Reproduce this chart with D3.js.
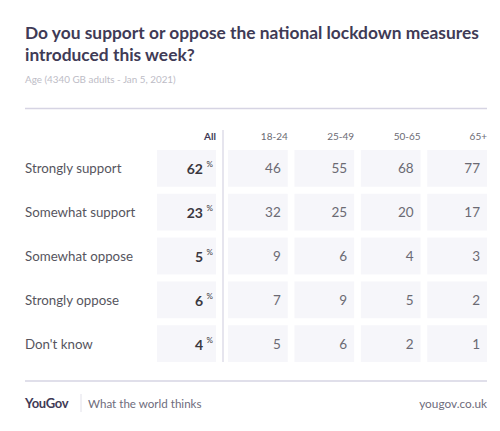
<!DOCTYPE html>
<html><head><meta charset="utf-8">
<script src="https://cdn.jsdelivr.net/npm/d3@7"></script>
<style>body{margin:0;background:#fff}svg{display:block}</style>
</head><body><svg id="c" width="500" height="431"></svg>
<script>
const responses = ["Strongly support","Somewhat support","Somewhat oppose","Strongly oppose","Don't know"];
const allValues = [62,23,5,6,4];
const ageGroups = ["18-24","25-49","50-65","65+"];
const ageValues = [
  [46,55,68,77],
  [32,25,20,17],
  [9,6,4,3],
  [7,9,5,2],
  [5,6,2,1]
];
const titleLines = ["Do you support or oppose the national lockdown measures","introduced this week?"];
const subtitle = "Age (4340 GB adults - Jan 5, 2021)";

const svg = d3.select("#c");
const font = "Lato, 'Open Sans', sans-serif";
const dark = "#3f3b56", grey = "#6b6a73", cellFill = "#f6f6fa";

function fit(sel, target){
  const node = sel.node();
  const fs = parseFloat(sel.attr("font-size"));
  const w = node.getComputedTextLength();
  sel.attr("font-size", (fs*target/w).toFixed(2));
  return +(fs*target/w).toFixed(2);
}

// title
const t1 = svg.append("text").attr("x",25).attr("y",39)
  .attr("font-family",font).attr("font-weight",700).attr("font-size",18)
  .attr("fill",dark).text(titleLines[0]);
const tfs = fit(t1, 454);
svg.append("text").attr("x",25).attr("y",61)
  .attr("font-family",font).attr("font-weight",700).attr("font-size",tfs)
  .attr("fill",dark).text(titleLines[1]);
const st = svg.append("text").attr("x",25).attr("y",83).attr("font-family",font)
  .attr("font-size",10).attr("fill","#bdbcc6").text(subtitle);
fit(st, 151);

svg.append("line").attr("x1",25).attr("x2",487).attr("y1",108.5).attr("y2",108.5)
  .attr("stroke","#d6d4e3").attr("stroke-width",1.5);

const y = d3.scaleBand().domain(responses).range([150,362]).paddingInner(0.16);
const x = d3.scaleBand().domain(ageGroups).range([228,487]).paddingInner(0.1);
const allX0 = 157, allX1 = 216;

// separator
svg.append("line").attr("x1",223).attr("x2",223).attr("y1",130).attr("y2",362)
  .attr("stroke","#e6e5ee").attr("stroke-width",2);

// headers
svg.append("text").attr("x",allX1).attr("y",140).attr("text-anchor","end")
  .attr("font-family",font).attr("font-weight",700).attr("font-size",10).attr("fill",dark).text("All");
svg.selectAll("text.hdr").data(ageGroups).join("text").attr("class","hdr")
  .attr("x",d=>x(d)+x.bandwidth()).attr("y",140).attr("text-anchor","end")
  .attr("font-family",font).attr("font-size",10).attr("fill",grey).text(d=>d);

// rows
const rows = svg.selectAll("g.row").data(responses).join("g").attr("class","row")
  .attr("transform",d=>`translate(0,${y(d)})`);
rows.append("text").attr("x",25).attr("y",y.bandwidth()/2+5)
  .attr("font-family",font).attr("font-size",13.3).attr("fill","#56555e").text(d=>d);
rows.append("rect").attr("x",allX0).attr("width",allX1-allX0).attr("height",y.bandwidth()).attr("fill",cellFill);
rows.append("text").attr("x",allX1-13).attr("y",y.bandwidth()/2+6).attr("text-anchor","end")
  .attr("font-family",font).attr("font-weight",700).attr("font-size",14).attr("fill","#3a3840")
  .text((d,i)=>allValues[i]);
rows.append("text").attr("x",allX1-3).attr("y",y.bandwidth()/2-1).attr("text-anchor","end")
  .attr("font-family",font).attr("font-size",8).attr("fill","#3a3840").text("%");
rows.each(function(d,i){
  const g = d3.select(this);
  g.selectAll("rect.c").data(ageValues[i]).join("rect").attr("class","c")
    .attr("x",(v,j)=>x(ageGroups[j])).attr("width",x.bandwidth()).attr("height",y.bandwidth()).attr("fill",cellFill);
  g.selectAll("text.v").data(ageValues[i]).join("text").attr("class","v")
    .attr("x",(v,j)=>x(ageGroups[j])+x.bandwidth()-7).attr("y",y.bandwidth()/2+5).attr("text-anchor","end")
    .attr("font-family",font).attr("font-size",13.5).attr("fill",grey).text(v=>v);
});

// footer
svg.append("line").attr("x1",25).attr("x2",487).attr("y1",381).attr("y2",381)
  .attr("stroke","#d6d4e3").attr("stroke-width",1.5);
svg.append("text").attr("x",25).attr("y",408).attr("font-family",font).attr("font-weight",700)
  .attr("font-size",13).attr("letter-spacing",-0.3).attr("fill",dark).text("YouGov");
svg.append("line").attr("x1",81).attr("x2",81).attr("y1",394).attr("y2",412)
  .attr("stroke","#e2e1ea").attr("stroke-width",1);
svg.append("text").attr("x",88).attr("y",408).attr("font-family",font)
  .attr("font-size",11.6).attr("fill","#6e6c7c").text("What the world thinks");
svg.append("text").attr("x",487).attr("y",408).attr("text-anchor","end").attr("font-family",font)
  .attr("font-size",11.8).attr("fill","#6e6c7c").text("yougov.co.uk");
</script></body></html>
